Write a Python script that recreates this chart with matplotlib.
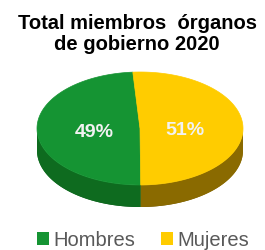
import numpy as np
import matplotlib
matplotlib.use("Agg")
import matplotlib.pyplot as plt
from matplotlib.patches import Polygon, Patch
from matplotlib.colors import to_rgb

plt.rcParams['font.family'] = ['Liberation Sans', 'DejaVu Sans']

categorias = ["Hombres", "Mujeres"]
porcentajes = [49, 51]
colores = ["#159433", "#FFCC00"]
colores_lado = ["#0e6b1f", "#8a6a00"]
titulo = "Total miembros  órganos\nde gobierno 2020"

# geometria del pastel 3d (en pixeles de la figura)
cx, cy = 140, 128.5
a, b = 103, 56.5
grosor = 22
inicio = 94


def punto(t, dy=0):
    r = np.radians(t)
    return cx + a * np.cos(r), cy - b * np.sin(r) + dy


fig = plt.figure(figsize=(2.65, 2.5), dpi=100)
ax = fig.add_axes([0, 0, 1, 1])
ax.set_xlim(0, 265)
ax.set_ylim(250, 0)
ax.axis("off")

total = sum(porcentajes)
angulos = [inicio]
for p in porcentajes:
    angulos.append(angulos[-1] + 360 * p / total)

# lado (solo la mitad delantera), con degradado
for i in range(len(porcentajes)):
    t0, t1 = angulos[i], angulos[i + 1]
    for k in (0, 360):
        lo, hi = max(t0, 180 + k), min(t1, 360 + k)
        if hi <= lo:
            continue
        ts = np.linspace(lo, hi, 100)
        arriba = [punto(t) for t in ts]
        abajo = [punto(t, grosor) for t in ts[::-1]]
        poli = Polygon(arriba + abajo, closed=True, fc=colores_lado[i], ec="none")
        ax.add_patch(poli)
        xs = np.array([p[0] for p in arriba])
        x0, x1 = xs.min(), xs.max()
        y0, y1 = cy - 1, cy + b + grosor + 1
        gx = np.linspace(x0, x1, 120)
        gy = np.linspace(y0, y1, 60)
        GX, GY = np.meshgrid(gx, gy)
        luz = 0.78 + 0.32 * np.abs(GX - cx) / a - 0.1 * (GY - cy) / (b + grosor)
        base = np.array(to_rgb(colores_lado[i]))
        img = np.clip(base[None, None, :] * luz[..., None], 0, 1)
        im = ax.imshow(img, extent=(x0, x1, y1, y0), origin="upper",
                       interpolation="bilinear", aspect="auto")
        im.set_clip_path(poli)

# cara superior
for i in range(len(porcentajes)):
    ts = np.linspace(angulos[i], angulos[i + 1], 120)
    pts = [(cx, cy)] + [punto(t) for t in ts]
    ax.add_patch(Polygon(pts, closed=True, fc=colores[i], ec=colores[i], lw=0.5))

ax.set_xlim(0, 265)
ax.set_ylim(250, 0)

# etiquetas
for i, p in enumerate(porcentajes):
    mid = (angulos[i] + angulos[i + 1]) / 2
    r = np.radians(mid)
    x = cx + 0.44 * a * np.cos(r)
    y = cy - 0.44 * b * np.sin(r) + 3
    ax.text(x, y, f"{p}%", ha="center", va="center", color="#f2f2f2",
            fontsize=14, fontweight="bold")

ax.text(137, 34, titulo, ha="center", va="center", fontsize=14.5,
        fontweight="bold", color="black", linespacing=1.12)

handles = [Patch(fc=c, ec="none") for c in colores]
leg = ax.legend(handles, categorias, loc="center", bbox_to_anchor=(0.54, 0.04),
                ncol=2, frameon=False, fontsize=14.5, handlelength=0.6,
                handleheight=0.6, handletextpad=0.2, columnspacing=1.3,
                borderaxespad=0, borderpad=0)
for t in leg.get_texts():
    t.set_color("#595959")

fig.savefig("out.png", dpi=100)
